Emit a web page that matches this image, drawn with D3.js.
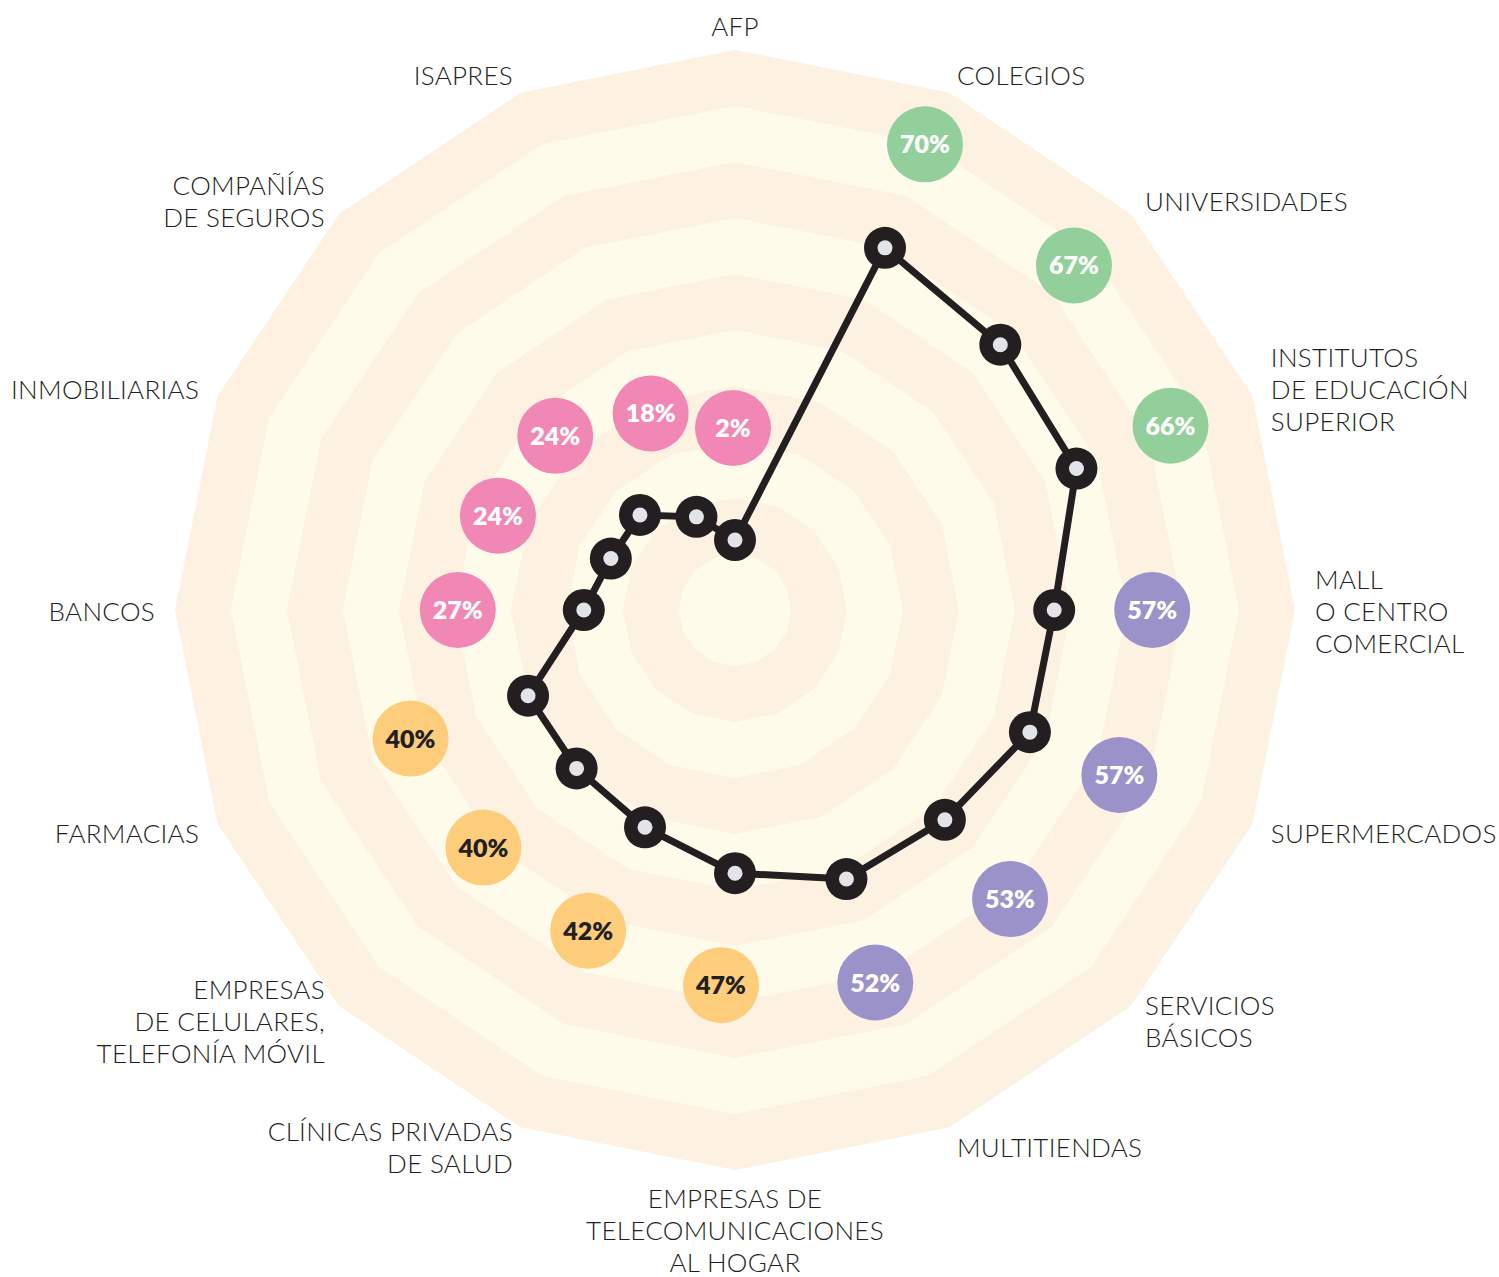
<!DOCTYPE html>
<meta charset="utf-8">
<style>

body {
  margin: 0;
  background: #fff;
}

.etiqueta {
  font-family: "Lato", sans-serif;
  font-weight: 300;
  font-size: 26px;
  letter-spacing: 0.3px;
  fill: #231f20;
}

.burbuja text {
  font-family: "Lato", sans-serif;
  font-weight: 800;
  font-size: 25px;
}

</style>
<svg width="1499" height="1277"></svg>
<script src="https://d3js.org/d3.v7.min.js"></script>
<script>

var categorias = [
  "AFP",
  "COLEGIOS",
  "UNIVERSIDADES",
  "INSTITUTOS\nDE EDUCACIÓN\nSUPERIOR",
  "MALL\nO CENTRO\nCOMERCIAL",
  "SUPERMERCADOS",
  "SERVICIOS\nBÁSICOS",
  "MULTITIENDAS",
  "EMPRESAS DE\nTELECOMUNICACIONES\nAL HOGAR",
  "CLÍNICAS PRIVADAS\nDE SALUD",
  "EMPRESAS\nDE CELULARES,\nTELEFONÍA MÓVIL",
  "FARMACIAS",
  "BANCOS",
  "INMOBILIARIAS",
  "COMPAÑÍAS\nDE SEGUROS",
  "ISAPRES"
];

var valores = [2, 70, 67, 66, 57, 57, 53, 52, 47, 42, 40, 40, 27, 24, 24, 18];

var grupos = ["d", "a", "a", "a", "b", "b", "b", "b", "c", "c", "c", "c", "d", "d", "d", "d"];

var niveles = [100, 90, 80, 70, 60, 50, 40, 30, 20, 10];

var svg = d3.select("svg"),
    cx = 735,
    cy = 610,
    R = 560,
    n = categorias.length;

var r = d3.scaleLinear().domain([0, 100]).range([0, R]);
var ang = d3.scaleLinear().domain([0, n]).range([0, 2 * Math.PI]);

var colorGrupo = d3.scaleOrdinal()
    .domain(["a", "b", "c", "d"])
    .range(["#93cf9b", "#9a92c8", "#fdcd7b", "#f087b5"]);
var colorTexto = d3.scaleOrdinal()
    .domain(["a", "b", "c", "d"])
    .range(["#fff", "#fff", "#231f20", "#fff"]);

// el punto de AFP queda fuera del disco central
var rPunto = function(v) { return r(Math.max(v, 12.5)); };

var g = svg.append("g")
    .attr("transform", "translate(" + cx + "," + cy + ")");

var idx = d3.range(n);

// fondo de bandas
var anillo = d3.lineRadial()
    .angle(function(i) { return ang(i); })
    .curve(d3.curveLinearClosed);

g.selectAll(".banda")
  .data(niveles)
  .enter().append("path")
    .attr("class", "banda")
    .attr("d", function(L) { return anillo.radius(r(L))(idx); })
    .attr("fill", function(L, k) { return k % 2 ? "#fffbea" : "#fdf1e2"; });

// linea
var linea = d3.lineRadial()
    .angle(function(d, i) { return ang(i); })
    .radius(function(d) { return rPunto(d); })
    .curve(d3.curveLinearClosed);

g.append("path")
    .datum(valores)
    .attr("d", linea)
    .attr("fill", "none")
    .attr("stroke", "#231f20")
    .attr("stroke-width", 7)
    .attr("stroke-linejoin", "round");

function px(a, rr) { return rr * Math.sin(a); }
function py(a, rr) { return -rr * Math.cos(a); }

var puntos = g.selectAll(".punto")
  .data(valores)
  .enter().append("g")
    .attr("class", "punto")
    .attr("transform", function(d, i) {
      return "translate(" + px(ang(i), rPunto(d)) + "," + py(ang(i), rPunto(d)) + ")";
    });

puntos.append("circle").attr("r", 21).attr("fill", "#231f20");
puntos.append("circle").attr("r", 7.5).attr("fill", "#e2e4e9");

// burbujas de porcentaje (corridas a la izquierda, menos arriba)
var burbujas = g.selectAll(".burbuja")
  .data(valores)
  .enter().append("g")
    .attr("class", "burbuja")
    .attr("transform", function(d, i) {
      var a = ang(i),
          rr = rPunto(d) + 112,
          corr = -14 + 12 * Math.max(0, Math.cos(a));
      return "translate(" + (px(a, rr) + corr) + "," + py(a, rr) + ")";
    });

burbujas.append("circle")
    .attr("r", 38)
    .attr("fill", function(d, i) { return colorGrupo(grupos[i]); });

burbujas.append("text")
    .attr("text-anchor", "middle")
    .attr("dy", "0.36em")
    .attr("fill", function(d, i) { return colorTexto(grupos[i]); })
    .text(function(d) { return d + "%"; });

// etiquetas de categoria
var etiquetas = g.selectAll(".etiqueta")
  .data(categorias)
  .enter().append("text")
    .attr("class", "etiqueta")
    .attr("text-anchor", function(d, i) {
      var s = Math.sin(ang(i));
      return s > 0.1 ? "start" : s < -0.1 ? "end" : "middle";
    })
    .each(function(d, i) {
      var a = ang(i),
          x = px(a, R + 20),
          y = py(a, R + 20),
          lineas = d.split("\n"),
          c = Math.cos(a);
      var y0 = c < -0.99 ? y + 7 : y - (lineas.length - 1) * 16 + (c > 0.99 ? -5 : 0);
      d3.select(this).selectAll("tspan")
        .data(lineas)
        .enter().append("tspan")
          .attr("x", x)
          .attr("y", function(l, k) { return y0 + k * 32 + 11; })
          .text(function(l) { return l; });
    });

</script>
